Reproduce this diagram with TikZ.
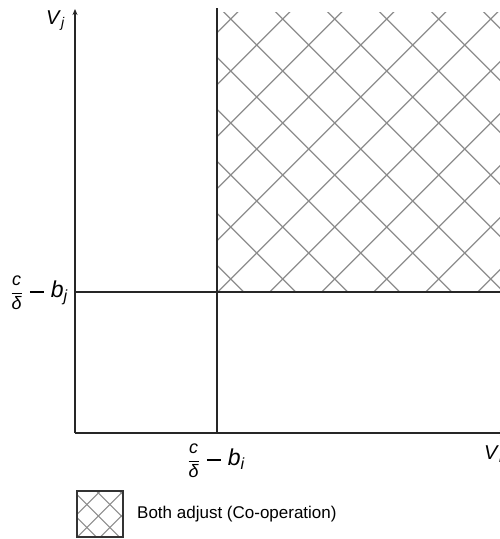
\documentclass[tikz,border=0pt]{standalone}
\usepackage{amsmath}
\usepackage{fontspec}
\setmainfont{Liberation Sans}
\usetikzlibrary{arrows.meta}
\newcommand{\cdlabel}[1]{{\fontsize{18}{20}\selectfont$\dfrac{\textit{c}}{\textit{δ}}$}\hspace{7pt}\rule[5pt]{14pt}{1.6pt}\hspace{7pt}\textit{b}$_{\textit{#1}}$}
\begin{document}
\begin{tikzpicture}[x=1pt,y=-1pt,
  axis/.style={line width=1.8pt, draw=black!85},
  hatchline/.style={line width=1.3pt, draw=black!45},
  boxline/.style={line width=1.6pt, draw=black!80},
  lbl/.style={font=\fontsize{23}{27}\selectfont, inner sep=0pt},
  vlbl/.style={font=\fontsize{20}{24}\selectfont, inner sep=0pt},
  legtext/.style={font=\fontsize{17}{20}\selectfont, inner sep=0pt}
]
\useasboundingbox (0,0) rectangle (500,539);
% coordinates
\coordinate (O) at (75,433);
\coordinate (ytop) at (75,9);
\coordinate (xend) at (506,433);
\coordinate (vtop) at (217,8);
\coordinate (vbot) at (217,433);
\coordinate (hl) at (75,292);
\coordinate (hr) at (500,292);
% hatched region
\begin{scope}
  \clip (217,12) rectangle (500,292);
  \foreach \k in {-3,...,13} {
    \draw[hatchline] ({249.7+52*\k},0) -- ++(-700,700);
  }
  \foreach \k in {-9,...,8} {
    \draw[hatchline] ({211.7+52*\k},0) -- ++(700,700);
  }
\end{scope}
% lines
\draw[axis] (vtop) -- (vbot);
\draw[axis] (hl) -- (hr);
\draw[axis,-{Stealth[length=6pt,width=5pt]}] (O) -- (ytop);
\draw[axis,-{Stealth[length=6pt,width=5pt]}] (O) -- (xend);
% axis labels
\node[vlbl, anchor=base west] (vj) at (46,24) {\textit{V}$_{\textit{j}}$};
\node[vlbl, anchor=base west] (vi) at (484,459) {\textit{V}$_{\textit{i}}$};
\node[lbl] (bi) at (216,461) {\cdlabel{i}};
\node[lbl, anchor=east] (bj) at (68,293) {\cdlabel{j}};
% legend
\begin{scope}
  \clip (77,491) rectangle (123,537);
  \foreach \k in {-4,...,4} {
    \draw[hatchline, line width=1.1pt] ({614.3+23*\k},0) -- ++(-700,700);
    \draw[hatchline, line width=1.1pt] ({-417.7+23*\k},0) -- ++(700,700);
  }
\end{scope}
\node[boxline, draw, minimum width=46pt, minimum height=46pt, inner sep=0pt] (legbox) at (100,514) {};
\node[legtext, anchor=west] (legtxt) at (137,514) {Both adjust (Co-operation)};
\end{tikzpicture}
\end{document}
